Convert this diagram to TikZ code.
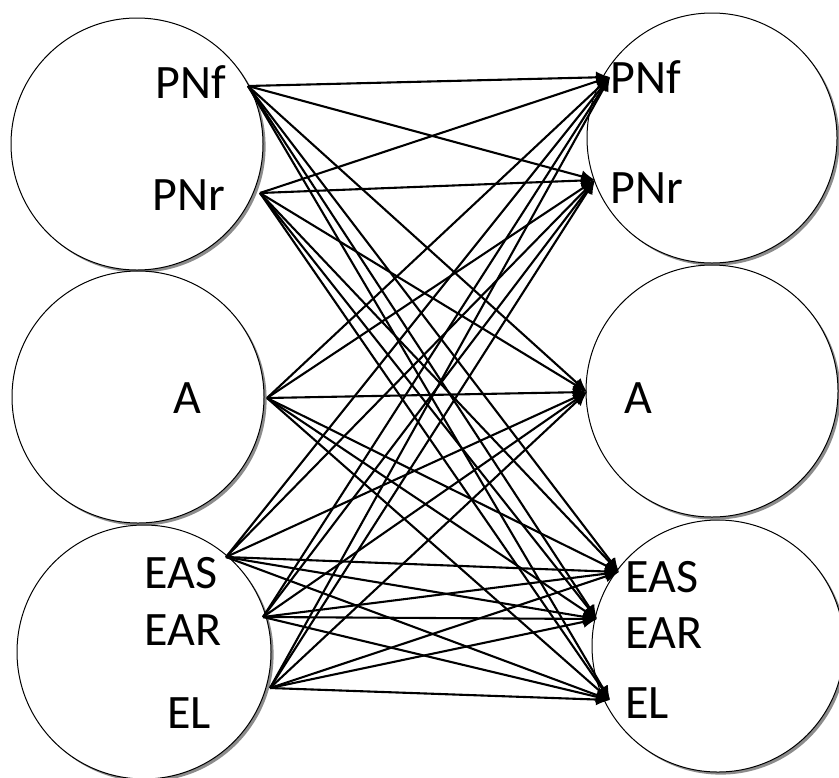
\documentclass[tikz,border=0pt]{standalone}
\usepackage{fontspec}
\setmainfont{Carlito}
\usetikzlibrary{shapes,arrows.meta,shadows}
\tikzstyle{arrow}=[draw, line width=1.05pt, -{Latex[length=7pt,width=6pt]}]
\tikzstyle{group}=[circle, draw, line width=0.5pt, fill=white, inner sep=0pt,
  drop shadow={shadow xshift=1.3pt, shadow yshift=-1.3pt, fill=gray!90, opacity=1}]
\tikzstyle{tag}=[anchor=base west, inner sep=0pt, font=\fontsize{24}{28}\selectfont]

\begin{document}
\begin{tikzpicture}[x=0.5pt, y=-0.5pt]
\useasboundingbox (0,0) rectangle (839,777);

% groups
\node (lefttop) [group, minimum size=126pt] at (137,144) {};
\node (leftmid) [group, minimum size=126pt] at (138,397) {};
\node (leftbot) [group, minimum size=127pt] at (144,652) {};
\node (righttop) [group, minimum size=125pt] at (712,138) {};
\node (rightmid) [group, minimum size=126pt] at (712,391) {};
\node (rightbot) [group, minimum size=126pt] at (718,646) {};

% labels
\node (pnflabel) [tag] at (155,98) {PNf};
\node (pnrlabel) [tag] at (152,210) {PNr};
\node (alabel) [tag] at (173,413) {A};
\node (easlabel) [tag] at (144,588) {EAS};
\node (earlabel) [tag] at (144,645) {EAR};
\node (ellabel) [tag] at (167,728) {EL};

\node (pnftlabel) [tag] at (610,93) {PNf};
\node (pnrtlabel) [tag] at (610,203) {PNr};
\node (atlabel) [tag] at (624,413) {A};
\node (eastlabel) [tag] at (625,592) {EAS};
\node (eartlabel) [tag] at (625,648) {EAR};
\node (eltlabel) [tag] at (625,718) {EL};

% ports
\coordinate (pnfout) at (248,86);
\coordinate (pnrout) at (260,193);
\coordinate (aout) at (267,398);
\coordinate (easout) at (226,557);
\coordinate (earout) at (263,617);
\coordinate (elout) at (270,688);

\coordinate (pnfin) at (610,77);
\coordinate (pnrin) at (595,180);
\coordinate (ain) at (587,392);
\coordinate (easin) at (619,572);
\coordinate (earin) at (597,619);
\coordinate (elin) at (610,700);

\draw [arrow] (pnfout) -- (pnfin);
\draw [arrow] (pnfout) -- (pnrin);
\draw [arrow] (pnfout) -- (ain);
\draw [arrow] (pnfout) -- (easin);
\draw [arrow] (pnfout) -- (earin);
\draw [arrow] (pnfout) -- (elin);

\draw [arrow] (pnrout) -- (pnfin);
\draw [arrow] (pnrout) -- (pnrin);
\draw [arrow] (pnrout) -- (ain);
\draw [arrow] (pnrout) -- (easin);
\draw [arrow] (pnrout) -- (earin);
\draw [arrow] (pnrout) -- (elin);

\draw [arrow] (aout) -- (pnfin);
\draw [arrow] (aout) -- (pnrin);
\draw [arrow] (aout) -- (ain);
\draw [arrow] (aout) -- (easin);
\draw [arrow] (aout) -- (earin);
\draw [arrow] (aout) -- (elin);

\draw [arrow] (easout) -- (pnfin);
\draw [arrow] (easout) -- (pnrin);
\draw [arrow] (easout) -- (ain);
\draw [arrow] (easout) -- (easin);
\draw [arrow] (easout) -- (earin);
\draw [arrow] (easout) -- (elin);

\draw [arrow] (earout) -- (pnfin);
\draw [arrow] (earout) -- (pnrin);
\draw [arrow] (earout) -- (ain);
\draw [arrow] (earout) -- (easin);
\draw [arrow] (earout) -- (earin);
\draw [arrow] (earout) -- (elin);

\draw [arrow] (elout) -- (pnfin);
\draw [arrow] (elout) -- (pnrin);
\draw [arrow] (elout) -- (ain);
\draw [arrow] (elout) -- (easin);
\draw [arrow] (elout) -- (earin);
\draw [arrow] (elout) -- (elin);

\end{tikzpicture}
\end{document}
